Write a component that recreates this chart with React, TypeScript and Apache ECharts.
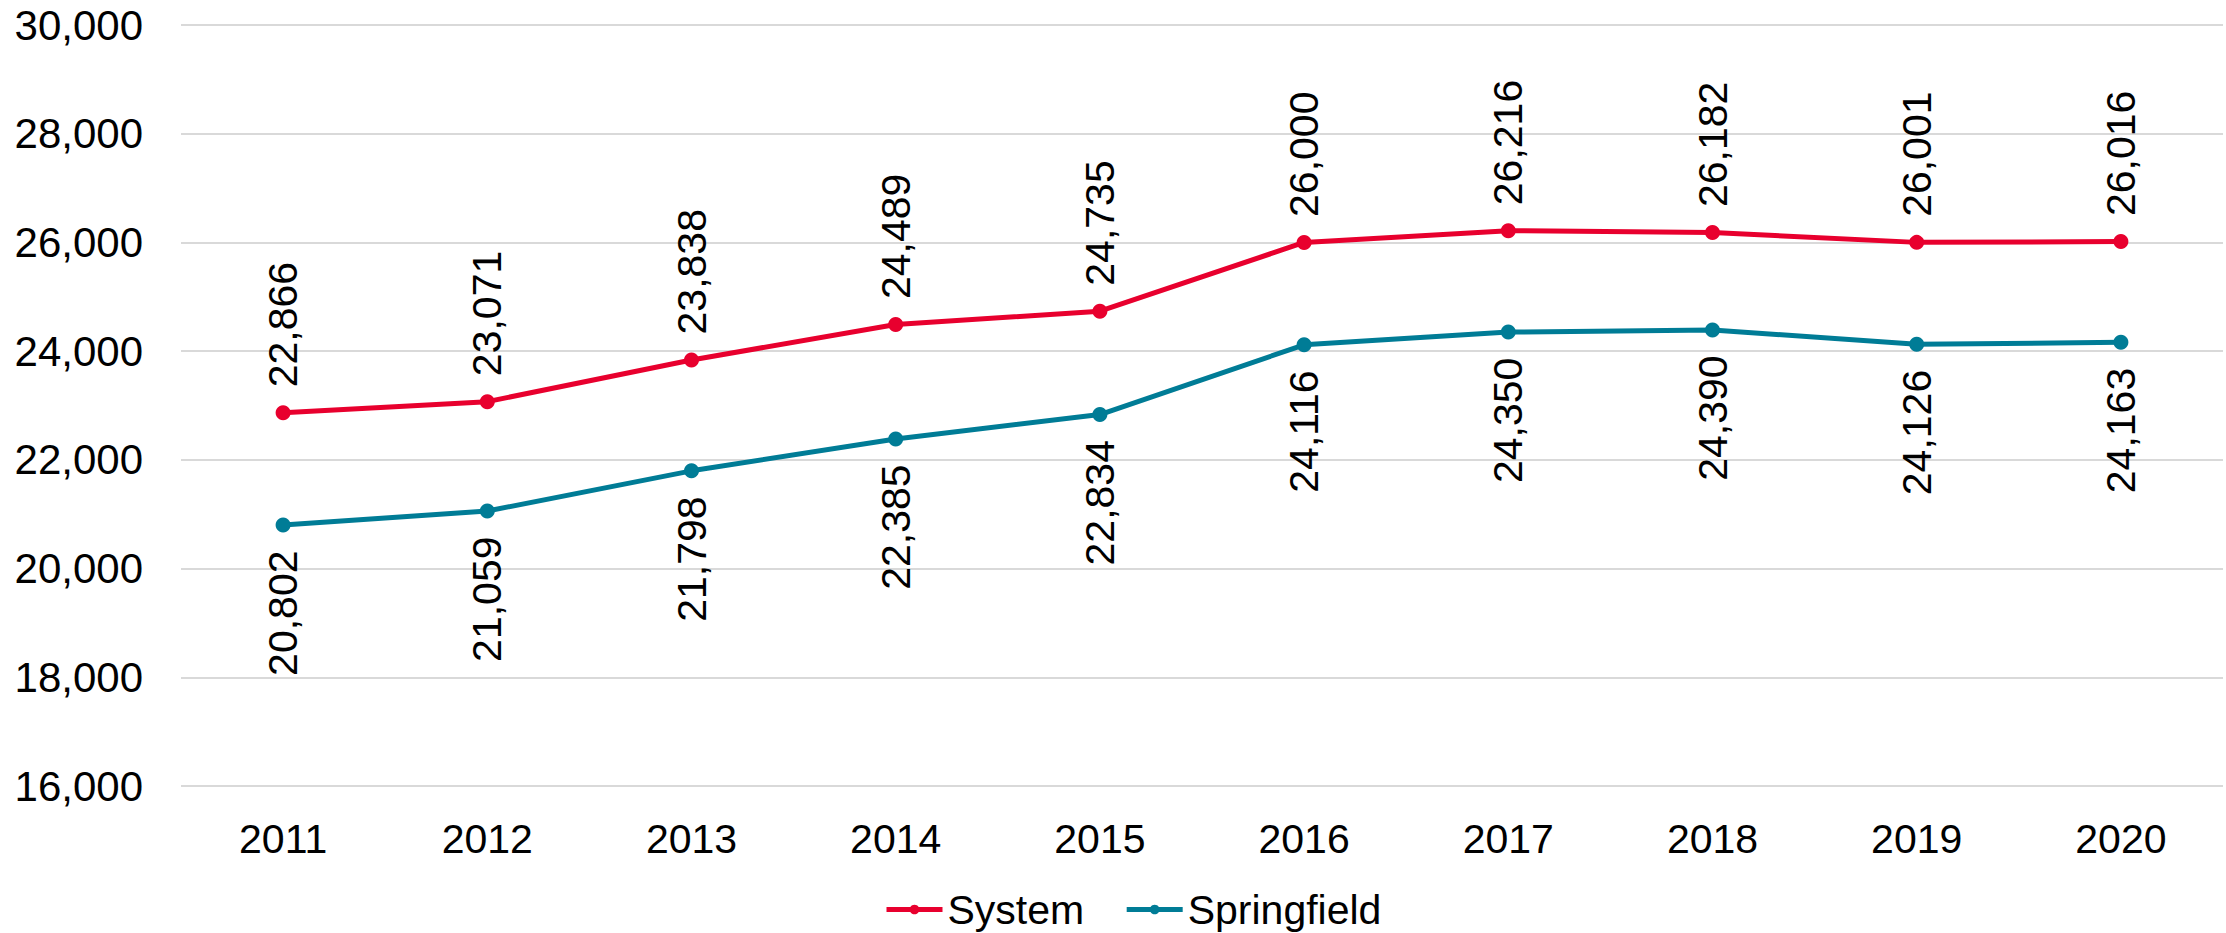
import React, { useEffect, useRef } from "react";
import * as echarts from "echarts";

const years = ["2011", "2012", "2013", "2014", "2015", "2016", "2017", "2018", "2019", "2020"];
const systemValues = [22866, 23071, 23838, 24489, 24735, 26000, 26216, 26182, 26001, 26016];
const springfieldValues = [20802, 21059, 21798, 22385, 22834, 24116, 24350, 24390, 24126, 24163];

const RED = "#E8002E";
const TEAL = "#007C96";
const FONT = "Liberation Sans, Arial, sans-serif";
const fmt = (v: number) => v.toLocaleString("en-US");

export default function App() {
  const ref = useRef<HTMLDivElement>(null);
  useEffect(() => {
    const chart = echarts.init(ref.current!, null, { renderer: "svg" });
    chart.setOption({
      animation: false,
      backgroundColor: "#ffffff",
      textStyle: { fontFamily: FONT },
      grid: { left: 181, right: 3, top: 25, bottom: 147, containLabel: false },
      legend: {
        left: 879,
        top: 884,
        itemWidth: 56,
        itemHeight: 12,
        itemGap: 40,
        lineStyle: { width: 5 },
        textStyle: { fontSize: 41, color: "#000", fontFamily: FONT },
        data: ["System", "Springfield"],
      },
      xAxis: {
        type: "category",
        data: years,
        boundaryGap: true,
        axisLine: { show: false },
        axisTick: { show: false },
        axisLabel: { fontSize: 41, color: "#000", fontFamily: FONT, margin: 32 },
      },
      yAxis: {
        type: "value",
        min: 16000,
        max: 30000,
        interval: 2000,
        axisLine: { show: false },
        axisTick: { show: false },
        splitLine: { lineStyle: { color: "#D9D9D9", width: 2 } },
        axisLabel: {
          fontSize: 42,
          color: "#000",
          fontFamily: FONT,
          margin: 38,
          formatter: (v: number) => fmt(v),
        },
      },
      series: [
        {
          name: "System",
          type: "line",
          data: systemValues,
          color: RED,
          symbol: "circle",
          symbolSize: 15,
          lineStyle: { width: 5, color: RED },
          itemStyle: { color: RED },
          label: {
            show: true,
            position: "top",
            distance: 18,
            rotate: 90,
            align: "left",
            verticalAlign: "middle",
            fontSize: 41,
            color: "#000",
            fontFamily: FONT,
            formatter: (p: any) => fmt(p.value),
          },
        },
        {
          name: "Springfield",
          type: "line",
          data: springfieldValues,
          color: TEAL,
          symbol: "circle",
          symbolSize: 15,
          lineStyle: { width: 5, color: TEAL },
          itemStyle: { color: TEAL },
          label: {
            show: true,
            position: "bottom",
            distance: 18,
            rotate: 90,
            align: "right",
            verticalAlign: "middle",
            fontSize: 41,
            color: "#000",
            fontFamily: FONT,
            formatter: (p: any) => fmt(p.value),
          },
        },
      ],
    });
    return () => chart.dispose();
  }, []);
  return (
    <div
      ref={ref}
      style={{ position: "fixed", left: 0, top: 0, width: 2226, height: 933, background: "#fff" }}
    />
  );
}
